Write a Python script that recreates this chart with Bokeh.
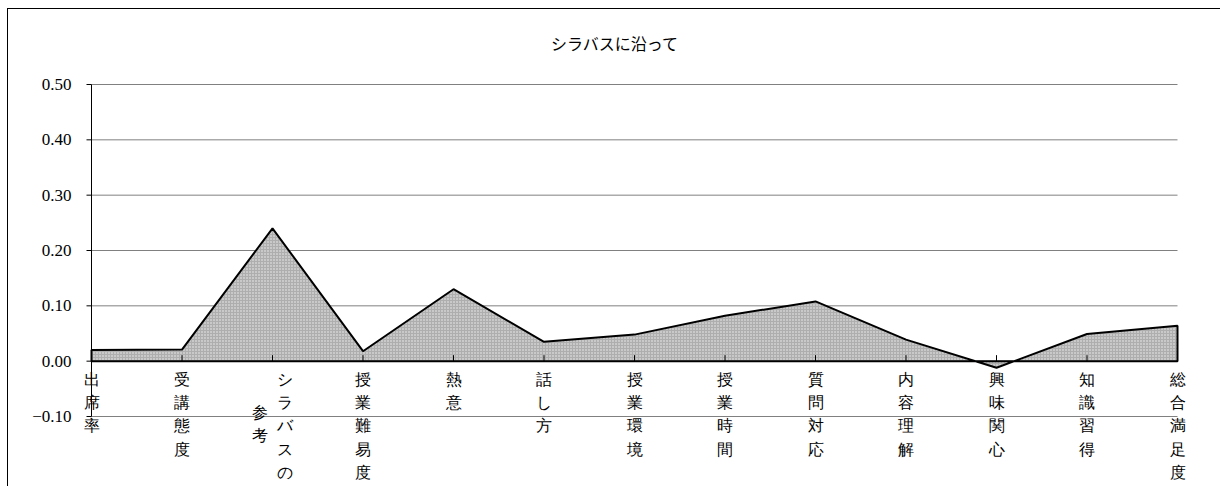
import math
from bokeh.plotting import figure
from bokeh.models import Range1d, ColumnDataSource, LabelSet, Label
from bokeh.embed import file_html
from bokeh.resources import INLINE

# ---------------- data ----------------
title_text = "シラバスに沿って"
categories = ["出席率", "受講態度", "シラバスの参考", "授業難易度", "熱意", "話し方",
              "授業環境", "授業時間", "質問対応", "内容理解", "興味関心", "知識習得",
              "総合満足度"]
values = [0.020, 0.021, 0.240, 0.018, 0.130, 0.035, 0.048, 0.082, 0.108,
          0.039, -0.012, 0.049, 0.064]
y_ticks = [-0.1, 0.0, 0.1, 0.2, 0.3, 0.4, 0.5]
y_tick_labels = ["\u22120.10", "0.00", "0.10", "0.20", "0.30", "0.40", "0.50"]

# ---------------- layout (pixels) ----------------
W, H = 1213, 478
X0_PX = 83                       # canvas px where first category sits
X1_PX = 1169                     # canvas px where last category sits
YTOP_PX = 75                     # canvas px (from top) of top tick value
YBOT_PX = 407                    # canvas px (from top) of bottom tick value

n = len(categories)
idx = list(range(n))
ppx = (X1_PX - X0_PX) / (n - 1)
x_start = 0 - X0_PX / ppx
x_end = (n - 1) + (W - X1_PX) / ppx
ymin, ymax = y_ticks[0], y_ticks[-1]
ppy = (YBOT_PX - YTOP_PX) / (ymax - ymin)
y_start = ymin - (H - YBOT_PX) / ppy
y_end = ymax + YTOP_PX / ppy

p = figure(width=W, height=H, x_range=Range1d(x_start, x_end),
           y_range=Range1d(y_start, y_end), output_backend="svg",
           toolbar_location=None, min_border=0)
p.styles = {"margin-left": "7px", "margin-top": "8px",
            "border-left": "1px solid #000", "border-top": "1px solid #000"}
p.outline_line_color = None
p.background_fill_color = "white"
p.border_fill_color = "white"
p.xaxis.visible = False
p.yaxis.visible = False
p.xgrid.visible = False
p.ygrid.visible = False

# chart title, centred on the chart area
p.add_layout(Label(x=(x_start + x_end) / 2, y=y_end, y_offset=-33,
                   text=title_text, text_align="center", text_baseline="middle",
                   text_font="Noto Sans CJK JP", text_font_size="16px",
                   text_color="black"))

# horizontal gridlines spanning the categories
nt = len(y_ticks)
p.segment(x0=[idx[0]] * nt, x1=[idx[-1]] * nt, y0=y_ticks, y1=y_ticks,
          line_color="#808080", line_width=1)

# value axis at the first category
p.segment(x0=[idx[0]], x1=[idx[0]], y0=[ymin], y1=[ymax],
          line_color="black", line_width=1)
p.ray(x=[idx[0]] * nt, y=y_ticks, length=5, length_units="screen",
      angle=math.pi, line_color="black", line_width=1)
ysrc = ColumnDataSource(dict(x=[idx[0]] * nt, y=y_ticks, text=y_tick_labels))
p.add_layout(LabelSet(x="x", y="y", text="text", source=ysrc, x_offset=-20,
                      text_align="right", text_baseline="middle",
                      text_font="Liberation Sans", text_font_size="17px",
                      text_color="black"))

# area
xs = idx + [idx[-1], idx[0]]
ys = values + [0, 0]
p.patch(xs, ys, fill_color="#aeaeae", hatch_pattern="dot", hatch_color="#f2f2f2",
        hatch_scale=3, hatch_weight=1, line_color="black", line_width=2)

# category tick marks (pointing up from zero line)
p.ray(x=idx, y=[0] * n, length=6, length_units="screen", angle=math.pi / 2,
      line_color="black", line_width=1)

# vertical category labels
MAXC = 5
pitch = 16 * 1.36
lx, ly, lt, lxo, lyo = [], [], [], [], []
for i, cat in enumerate(categories):
    cols = [cat[k:k + MAXC] for k in range(0, len(cat), MAXC)]
    nc = len(cols)
    tallest = max(len(c) for c in cols)
    for j, c in enumerate(cols):
        lx.append(i)
        ly.append(0)
        lt.append("\n".join(c))
        lxo.append((nc - 1) * 12.5 - j * 25)
        lyo.append(-(10 + (tallest - len(c)) * pitch / 2))
src = ColumnDataSource(dict(x=lx, y=ly, text=lt, xo=lxo, yo=lyo))
p.add_layout(LabelSet(x="x", y="y", text="text", source=src, x_offset="xo",
                      y_offset="yo", text_align="center", text_baseline="top",
                      text_font="Noto Sans CJK JP", text_font_size="16px",
                      text_line_height=1.36, text_color="black"))

open("out.html", "w").write(file_html(p, INLINE))
